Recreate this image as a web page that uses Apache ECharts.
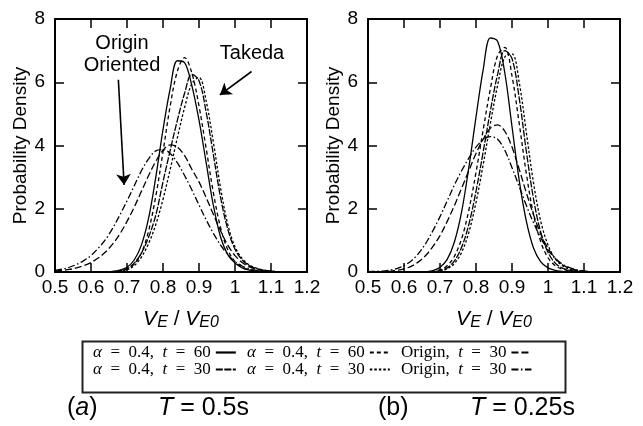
<!DOCTYPE html>
<html>
<head>
<meta charset="utf-8">
<script src="https://cdn.jsdelivr.net/npm/echarts@6/dist/echarts.min.js"></script>
<style>
html,body{margin:0;padding:0;background:#fff;}
#c{width:643px;height:426px;}
</style>
</head>
<body>
<div id="c"></div>
<script>
// ---- data (V_E / V_E0 grid and probability densities) ----
const xs = [0.50,0.52,0.54,0.56,0.58,0.60,0.62,0.64,0.66,0.68,0.70,0.72,0.74,0.76,0.78,0.80,0.82,0.84,0.86,0.88,0.90,0.92,0.94,0.96,0.98,1.00,1.02,1.04,1.06,1.08,1.10,1.12,1.14,1.16,1.18,1.20];

// panel (a) T = 0.5s
const a_a60Solid = [0,0,0,0,0,0,0,0.01,0.02,0.06,0.15,0.38,0.85,1.7,3.0,4.5,5.8,6.68,6.62,5.9,4.8,3.45,2.1,1.1,0.55,0.28,0.13,0.06,0.03,0.01,0,0,0,0,0,0];
const a_a60Dash  = [0,0,0,0,0,0,0,0,0.01,0.04,0.1,0.25,0.6,1.3,2.4,3.8,5.25,6.35,6.78,6.3,5.25,3.9,2.5,1.4,0.7,0.33,0.15,0.07,0.03,0.01,0,0,0,0,0,0];
const a_o30Dash  = [0.03,0.05,0.08,0.13,0.2,0.3,0.44,0.63,0.88,1.2,1.6,2.05,2.55,3.05,3.5,3.85,4.02,3.95,3.68,3.25,2.85,2.35,1.82,1.3,0.85,0.52,0.3,0.16,0.08,0.04,0.02,0.01,0,0,0,0];
const a_a30Dash  = [0,0,0,0,0,0,0,0,0.01,0.03,0.1,0.28,0.6,1.1,1.8,2.85,3.85,4.8,5.65,6.25,6.05,5.05,3.7,2.35,1.35,0.72,0.38,0.2,0.11,0.06,0.03,0.01,0,0,0,0];
const a_a30Dot   = [0,0,0,0,0,0,0,0,0,0.02,0.07,0.2,0.47,0.9,1.5,2.3,3.25,4.25,5.2,5.95,6.15,5.4,4.1,2.65,1.5,0.8,0.42,0.22,0.12,0.06,0.03,0.01,0,0,0,0];
const a_o30DashDot = [0.05,0.09,0.15,0.24,0.36,0.52,0.75,1.02,1.38,1.8,2.25,2.72,3.2,3.58,3.83,3.87,3.75,3.45,3.05,2.6,2.12,1.65,1.22,0.85,0.55,0.33,0.19,0.1,0.05,0.03,0.01,0,0,0,0,0];

// panel (b) T = 0.25s
const b_a60Solid = [0,0,0,0,0,0,0,0,0.01,0.04,0.15,0.4,0.95,1.9,3.3,4.9,6.4,7.4,7.3,6.3,4.6,2.9,1.6,0.75,0.32,0.13,0.05,0.02,0,0,0,0,0,0,0,0];
const b_a60Dash  = [0,0,0,0,0,0,0,0,0,0.02,0.07,0.2,0.5,1.05,1.95,3.15,4.5,5.8,6.85,7.1,6.2,4.7,3.1,1.8,0.95,0.45,0.2,0.09,0.04,0.02,0,0,0,0,0,0];
const b_o30Dash  = [0,0,0.01,0.02,0.05,0.1,0.18,0.32,0.52,0.8,1.15,1.6,2.1,2.65,3.2,3.75,4.2,4.55,4.65,4.45,3.95,3.25,2.5,1.8,1.2,0.75,0.43,0.23,0.12,0.06,0.03,0.01,0,0,0,0];
const b_a30Dash  = [0,0,0,0,0,0,0,0,0,0.01,0.04,0.13,0.35,0.78,1.5,2.55,3.8,5.1,6.25,7.0,6.75,5.5,3.8,2.3,1.25,0.62,0.28,0.12,0.05,0.02,0,0,0,0,0,0];
const b_a30Dot   = [0,0,0,0,0,0,0,0,0,0,0.03,0.1,0.27,0.62,1.25,2.2,3.4,4.7,5.9,6.8,6.9,6.0,4.4,2.8,1.6,0.85,0.42,0.2,0.09,0.04,0.02,0,0,0,0,0];
const b_o30DashDot = [0.01,0.02,0.03,0.06,0.11,0.2,0.35,0.58,0.9,1.3,1.75,2.25,2.75,3.2,3.6,3.95,4.18,4.28,4.2,3.85,3.3,2.7,2.1,1.55,1.08,0.7,0.43,0.25,0.14,0.07,0.03,0.01,0,0,0,0];

const xTicks = [0.5,0.6,0.7,0.8,0.9,1.0,1.1,1.2];
const yTicks = [0,2,4,6,8];

// legend labels (en spaces reproduce the wide spacing of the original)
const legendLabels = {
  a60s: '{i|α}\u2002=\u20020.4,\u2002{i|t}\u2002=\u200260',
  a60d: '{i|α}\u2002=\u20020.4,\u2002{i|t}\u2002=\u200260',
  o30d: 'Origin,\u2002{i|t}\u2002=\u200230',
  a30d: '{i|α}\u2002=\u20020.4,\u2002{i|t}\u2002=\u200230',
  a30p: '{i|α}\u2002=\u20020.4,\u2002{i|t}\u2002=\u200230',
  o30dd: 'Origin,\u2002{i|t}\u2002=\u200230'
};

// ---- build ----
const SANS = 'Liberation Sans, Arial, sans-serif';
const SERIF = 'Liberation Serif, Times New Roman, serif';
const styles = {
  a60s: 'solid',
  a60d: [4,3],
  o30d: [7,3],
  a30d: [7,1.5],
  a30p: [2.5,2],
  o30dd: [7,2.5,1.5,2.5]
};
const pair = arr => xs.map((x,i)=>[x, arr[i]]);

function mkX(gi, top){
  return {
    gridIndex: gi, type:'value', position: top?'top':'bottom',
    min: xTicks[0], max: xTicks[xTicks.length-1], interval: 0.1,
    axisLine:{show:true, onZero:false, lineStyle:{color:'#000', width:2}},
    axisTick:{show:true, inside:true, length:9, lineStyle:{color:'#000', width:1.5}},
    axisLabel:{show:!top, color:'#000', fontSize:19, fontFamily:SANS, margin:6,
      formatter: v => String(+(+v).toFixed(1))},
    splitLine:{show:false},
    name: top ? '' : '{v|V}{s|E}{n| / }{v|V}{s|E0}',
    nameLocation:'middle', nameGap: 37,
    nameTextStyle:{rich:{
      v:{fontSize:21, fontStyle:'italic', fontFamily:SANS, color:'#000', verticalAlign:'top', lineHeight:22},
      n:{fontSize:21, fontFamily:SANS, color:'#000', verticalAlign:'top', lineHeight:22},
      s:{fontSize:16, fontStyle:'italic', fontFamily:SANS, color:'#000', verticalAlign:'bottom', lineHeight:16, padding:[12,0,0,0]}
    }}
  };
}
function mkY(gi, right){
  return {
    gridIndex: gi, type:'value', position: right?'right':'left',
    min: yTicks[0], max: yTicks[yTicks.length-1], interval: 2,
    axisLine:{show:true, onZero:false, lineStyle:{color:'#000', width:2}},
    axisTick:{show:true, inside:true, length:9, lineStyle:{color:'#000', width:1.5}},
    axisLabel:{show:!right, color:'#000', fontSize:19, fontFamily:SANS, margin:10},
    splitLine:{show:false},
    name: right ? '' : 'Probability Density',
    nameLocation:'middle', nameGap: 24,
    nameTextStyle:{fontSize:19, fontFamily:SANS, color:'#000'}
  };
}

function mkSeries(name, arr, panel, extra){
  const s = {
    name, type:'line', data: pair(arr),
    xAxisIndex: panel*2, yAxisIndex: panel*2,
    showSymbol:false, symbol:'none', smooth:0.35,
    lineStyle:{color:'#000', width:1.3, type: styles[name]},
    itemStyle:{color:'#000'},
    z: 3
  };
  return Object.assign(s, extra||{});
}

const arrows = {
  silent:true, symbol:['none','arrow'], symbolSize:11,
  lineStyle:{color:'#000', width:1.6, type:'solid'},
  label:{show:false},
  data:[
    [{coord:[0.676,6.08]},{coord:[0.692,2.75]}],
    [{coord:[1.046,6.34]},{coord:[0.958,5.6]}]
  ]
};

const series = [
  mkSeries('a60s', a_a60Solid, 0, {markLine: arrows}),
  mkSeries('a60d', a_a60Dash, 0),
  mkSeries('o30d', a_o30Dash, 0),
  mkSeries('a30d', a_a30Dash, 0),
  mkSeries('a30p', a_a30Dot, 0),
  mkSeries('o30dd', a_o30DashDot, 0),
  mkSeries('a60s', b_a60Solid, 1),
  mkSeries('a60d', b_a60Dash, 1),
  mkSeries('o30d', b_o30Dash, 1),
  mkSeries('a30d', b_a30Dash, 1),
  mkSeries('a30p', b_a30Dot, 1),
  mkSeries('o30dd', b_o30DashDot, 1)
];

function mkLegend(names, left){
  return {
    data: names, left, top: 344, orient:'vertical', align:'right',
    itemGap:0, itemWidth:20, itemHeight:10, padding:0, selectedMode:false,
    lineStyle:{width:2.2},
    itemStyle:{opacity:0, borderWidth:0},
    formatter: n => legendLabels[n],
    textStyle:{color:'#000', fontSize:17, fontFamily:SERIF, lineHeight:17,
      rich:{i:{fontStyle:'italic', fontSize:17, fontFamily:SERIF, color:'#000'}}}
  };
}

const option = {
  animation:false,
  backgroundColor:'#fff',
  grid:[
    {left:55, top:19, width:252, height:253},
    {left:368, top:19, width:252, height:253}
  ],
  xAxis:[mkX(0,false), mkX(0,true), mkX(1,false), mkX(1,true)],
  yAxis:[mkY(0,false), mkY(0,true), mkY(1,false), mkY(1,true)],
  legend:[
    mkLegend(['a60s','a30d'], 93),
    mkLegend(['a60d','a30p'], 247),
    mkLegend(['o30d','o30dd'], 401)
  ],
  graphic:[
    {type:'rect', left:80, top:339, shape:{width:483, height:51},
      style:{fill:'none', stroke:'#222', lineWidth:2}, z:-1},
    {type:'text', x:122, y:54, style:{text:'Origin\nOriented', fontSize:20, fontFamily:SANS,
      fill:'#000', align:'center', verticalAlign:'middle', lineHeight:22}},
    {type:'text', x:252, y:53, style:{text:'Takeda', fontSize:20, fontFamily:SANS,
      fill:'#000', align:'center', verticalAlign:'middle'}},
    {type:'text', x:67, y:408, style:{text:'({i|a})', fontSize:25, fontFamily:SANS, fill:'#000',
      verticalAlign:'middle', rich:{i:{fontStyle:'italic', fontSize:25, fontFamily:SANS, fill:'#000'}}}},
    {type:'text', x:158, y:408, style:{text:'{i|T} = 0.5s', fontSize:25, fontFamily:SANS, fill:'#000',
      verticalAlign:'middle', rich:{i:{fontStyle:'italic', fontSize:25, fontFamily:SANS, fill:'#000'}}}},
    {type:'text', x:378, y:408, style:{text:'(b)', fontSize:25, fontFamily:SANS, fill:'#000',
      verticalAlign:'middle'}},
    {type:'text', x:470, y:408, style:{text:'{i|T} = 0.25s', fontSize:25, fontFamily:SANS, fill:'#000',
      verticalAlign:'middle', rich:{i:{fontStyle:'italic', fontSize:25, fontFamily:SANS, fill:'#000'}}}}
  ],
  series
};

const chart = echarts.init(document.getElementById('c'), null, {renderer:'canvas'});
chart.setOption(option);
</script>
</body>
</html>
